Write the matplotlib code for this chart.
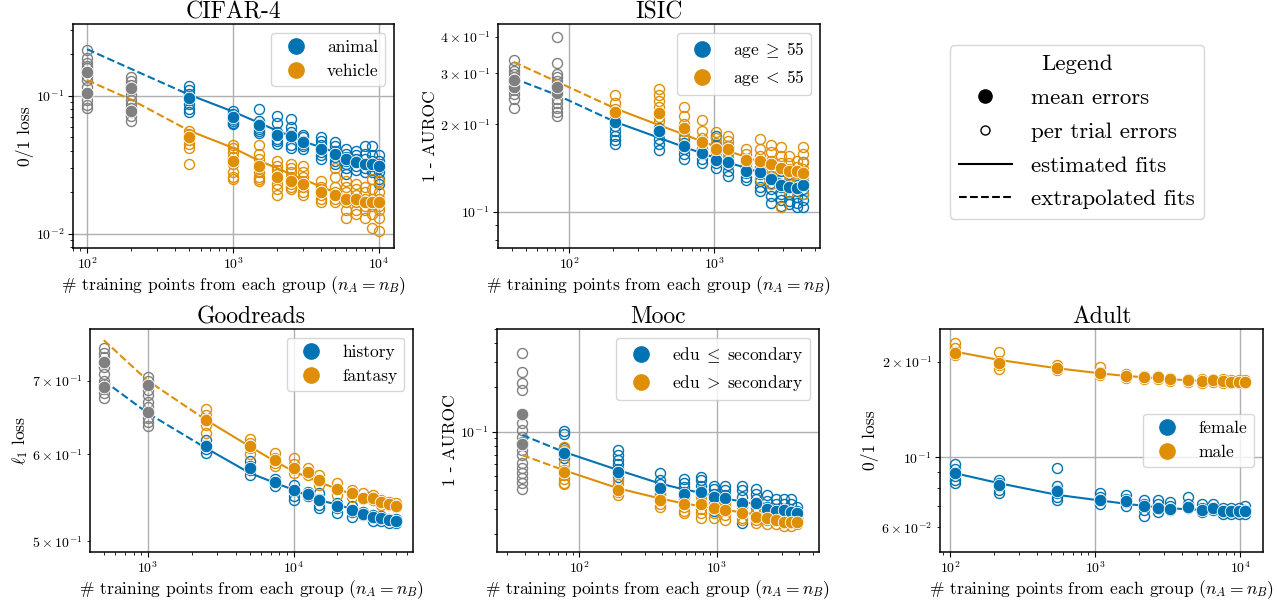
import numpy as np
import matplotlib
matplotlib.use("Agg")
import matplotlib.pyplot as plt
from matplotlib.lines import Line2D

plt.rcParams['font.family'] = 'serif'
plt.rcParams['font.serif'] = ['cmr10']
plt.rcParams['mathtext.fontset'] = 'cm'
plt.rcParams['axes.formatter.use_mathtext'] = True
plt.rcParams['axes.unicode_minus'] = False
plt.rcParams['xtick.labelsize'] = 10
plt.rcParams['ytick.labelsize'] = 10
plt.rcParams['xtick.major.pad'] = 2.5
plt.rcParams['ytick.major.pad'] = 2.5
plt.rcParams['axes.labelsize'] = 12.6
plt.rcParams['axes.labelpad'] = 1.5
plt.rcParams['axes.titlesize'] = 17
plt.rcParams['axes.titlepad'] = 4
plt.rcParams['axes.linewidth'] = 1.1

BLUE = '#0173b2'
ORANGE = '#de8f05'
GRAY = '#808080'

# ---------------- CIFAR-4
cifar_n = [100, 200, 500, 1000, 1500, 2000, 2500, 3000, 4000, 5000, 6000, 7000, 8000, 9000, 10000]
cifar_fit_animal = [0.218, 0.157, 0.102, 0.077, 0.064, 0.056, 0.051, 0.047, 0.0425, 0.039, 0.036, 0.0345, 0.033, 0.0317, 0.0306]
cifar_fit_vehicle = [0.130, 0.094, 0.056, 0.042, 0.034, 0.030, 0.027, 0.025, 0.022, 0.020, 0.0187, 0.0176, 0.0167, 0.016, 0.0154]
cifar_mean_animal = [0.15, 0.115, 0.097, 0.070, 0.062, 0.052, 0.051, 0.046, 0.041, 0.038, 0.035, 0.033, 0.032, 0.032, 0.031]
cifar_mean_vehicle = [0.105, 0.078, 0.050, 0.034, 0.031, 0.026, 0.024, 0.023, 0.020, 0.019, 0.018, 0.018, 0.017, 0.017, 0.017]
cifar_trials_animal = [
    [0.215, 0.188, 0.173, 0.165, 0.159, 0.149, 0.14],
    [0.137, 0.128, 0.12, 0.11, 0.102, 0.094],
    [0.118, 0.111, 0.104, 0.098, 0.093, 0.088, 0.080, 0.076],
    [0.078, 0.074, 0.071, 0.068, 0.066, 0.064, 0.063],
    [0.081, 0.066, 0.063, 0.060, 0.058, 0.056, 0.054],
    [0.071, 0.064, 0.055, 0.052, 0.049, 0.047, 0.045],
    [0.068, 0.060, 0.055, 0.052, 0.050, 0.044, 0.042],
    [0.052, 0.050, 0.047, 0.045, 0.043, 0.041],
    [0.050, 0.047, 0.044, 0.041, 0.039, 0.037, 0.035],
    [0.046, 0.043, 0.040, 0.038, 0.036, 0.034, 0.032],
    [0.041, 0.038, 0.036, 0.034, 0.032, 0.030, 0.027],
    [0.040, 0.037, 0.035, 0.033, 0.031, 0.029],
    [0.043, 0.038, 0.035, 0.032, 0.030, 0.028],
    [0.043, 0.037, 0.034, 0.031, 0.029, 0.028],
    [0.037, 0.034, 0.032, 0.030, 0.028, 0.025, 0.023]]
cifar_trials_vehicle = [
    [0.131, 0.116, 0.105, 0.094, 0.086, 0.082],
    [0.088, 0.082, 0.077, 0.072, 0.066],
    [0.056, 0.053, 0.050, 0.048, 0.045, 0.042, 0.032],
    [0.044, 0.042, 0.039, 0.036, 0.034, 0.032, 0.028, 0.026, 0.025],
    [0.044, 0.038, 0.035, 0.032, 0.030, 0.028, 0.026, 0.025, 0.024],
    [0.034, 0.031, 0.029, 0.027, 0.025, 0.023, 0.021, 0.019],
    [0.032, 0.030, 0.028, 0.026, 0.025, 0.023, 0.022, 0.021],
    [0.031, 0.028, 0.026, 0.024, 0.022, 0.020, 0.019],
    [0.024, 0.022, 0.021, 0.020, 0.019, 0.018, 0.017],
    [0.030, 0.026, 0.022, 0.020, 0.019, 0.018, 0.017],
    [0.024, 0.022, 0.020, 0.018, 0.017, 0.015, 0.013],
    [0.023, 0.021, 0.019, 0.018, 0.017, 0.015, 0.014],
    [0.022, 0.020, 0.018, 0.017, 0.016, 0.015, 0.013],
    [0.025, 0.021, 0.018, 0.016, 0.014, 0.011],
    [0.024, 0.020, 0.018, 0.016, 0.015, 0.013, 0.0105]]

# ---------------- ISIC
isic_n = [41.3, 82.6, 206.5, 413, 619.5, 826, 1032.5, 1239, 1652, 2065, 2478, 2891, 3304, 3717, 4130]
isic_fit_old = [0.288, 0.252, 0.204, 0.180, 0.167, 0.159, 0.153, 0.148, 0.1415, 0.1365, 0.1325, 0.129, 0.1264, 0.124, 0.122]
isic_fit_young = [0.328, 0.280, 0.227, 0.199, 0.1845, 0.1746, 0.1675, 0.162, 0.1545, 0.1486, 0.144, 0.1403, 0.137, 0.1345, 0.132]
isic_mean_old = [0.268, 0.256, 0.203, 0.189, 0.169, 0.159, 0.151, 0.148, 0.138, 0.137, 0.130, 0.124, 0.122, 0.121, 0.124]
isic_mean_young = [0.284, 0.268, 0.221, 0.218, 0.194, 0.174, 0.165, 0.165, 0.151, 0.149, 0.146, 0.141, 0.138, 0.138, 0.136]
isic_trials_old = [
    [0.276, 0.27, 0.262, 0.255, 0.245, 0.228],
    [0.262, 0.255, 0.245, 0.236, 0.228, 0.22, 0.213],
    [0.205, 0.198, 0.19, 0.182, 0.176, 0.171],
    [0.194, 0.186, 0.178, 0.171, 0.163],
    [0.19, 0.18, 0.172, 0.165, 0.158, 0.152],
    [0.175, 0.165, 0.158, 0.152, 0.147],
    [0.183, 0.17, 0.16, 0.152, 0.147, 0.141],
    [0.168, 0.16, 0.152, 0.145, 0.138, 0.133],
    [0.147, 0.141, 0.136, 0.132, 0.129],
    [0.15, 0.142, 0.135, 0.128, 0.122, 0.118],
    [0.14, 0.133, 0.126, 0.12, 0.113, 0.107],
    [0.138, 0.13, 0.122, 0.115, 0.11, 0.105],
    [0.135, 0.128, 0.121, 0.115, 0.109, 0.106],
    [0.13, 0.124, 0.118, 0.112, 0.107, 0.104],
    [0.148, 0.135, 0.127, 0.12, 0.115, 0.11, 0.104]]
isic_trials_young = [
    [0.333, 0.315, 0.305, 0.298, 0.29, 0.282],
    [0.40, 0.325, 0.298, 0.29, 0.283, 0.276, 0.27],
    [0.252, 0.237, 0.226, 0.218, 0.212],
    [0.264, 0.252, 0.24, 0.23, 0.22, 0.212, 0.205],
    [0.23, 0.213, 0.2, 0.19, 0.182],
    [0.207, 0.19, 0.18, 0.172, 0.165, 0.16],
    [0.188, 0.18, 0.172, 0.165, 0.16],
    [0.183, 0.175, 0.168, 0.16, 0.156],
    [0.165, 0.158, 0.152, 0.147, 0.142],
    [0.178, 0.165, 0.155, 0.147, 0.14, 0.13],
    [0.17, 0.16, 0.15, 0.14, 0.133, 0.125],
    [0.167, 0.155, 0.147, 0.14, 0.132, 0.104],
    [0.155, 0.147, 0.14, 0.134, 0.128, 0.117],
    [0.15, 0.143, 0.137, 0.131, 0.126],
    [0.167, 0.158, 0.148, 0.14, 0.133, 0.125, 0.115]]

# ---------------- Goodreads
gr_n = [500, 1000, 2500, 5000, 7500, 10000, 12500, 15000, 20000, 25000, 30000, 35000, 40000, 45000, 50000]
gr_fit_history = [0.70, 0.654, 0.608, 0.577, 0.565, 0.557, 0.550, 0.545, 0.540, 0.535, 0.531, 0.528, 0.526, 0.5245, 0.523]
gr_fit_fantasy = [0.762, 0.70, 0.645, 0.610, 0.591, 0.579, 0.572, 0.566, 0.558, 0.552, 0.548, 0.545, 0.5425, 0.5405, 0.539]
gr_mean_history = [0.691, 0.655, 0.610, 0.583, 0.566, 0.557, 0.552, 0.545, 0.538, 0.534, 0.530, 0.526, 0.525, 0.523, 0.522]
gr_mean_fantasy = [0.728, 0.693, 0.645, 0.610, 0.593, 0.583, 0.578, 0.569, 0.558, 0.553, 0.547, 0.548, 0.543, 0.541, 0.539]
gr_trials_history = [
    [0.70, 0.695, 0.688, 0.682, 0.675],
    [0.67, 0.663, 0.655, 0.648, 0.642, 0.637],
    [0.618, 0.612, 0.607, 0.602],
    [0.592, 0.586, 0.58, 0.575],
    [0.57, 0.566, 0.562],
    [0.563, 0.556, 0.55, 0.545],
    [0.554, 0.55],
    [0.553, 0.546, 0.54, 0.536],
    [0.542, 0.536, 0.531],
    [0.538, 0.532, 0.526],
    [0.532, 0.528],
    [0.528, 0.522],
    [0.527, 0.522],
    [0.524, 0.52],
    [0.524, 0.52]]
gr_trials_fantasy = [
    [0.75, 0.742, 0.735, 0.727, 0.72, 0.71],
    [0.706, 0.7, 0.693, 0.687, 0.68],
    [0.66, 0.652, 0.645, 0.638, 0.628],
    [0.62, 0.614, 0.608, 0.6],
    [0.602, 0.595, 0.589, 0.585],
    [0.595, 0.588, 0.582, 0.577],
    [0.583, 0.574],
    [0.575, 0.567, 0.563],
    [0.565, 0.558, 0.551],
    [0.557, 0.549],
    [0.553, 0.546],
    [0.551, 0.545],
    [0.545, 0.54],
    [0.543, 0.54],
    [0.542, 0.537]]

# ---------------- Mooc
mooc_n = [38.5, 77, 192.5, 385, 577.5, 770, 962.5, 1155, 1540, 1925, 2310, 2695, 3080, 3465, 3850]
mooc_fit_low = [0.095, 0.073, 0.0548, 0.0445, 0.0405, 0.0385, 0.0365, 0.0352, 0.0334, 0.0322, 0.0312, 0.0304, 0.0298, 0.0292, 0.0286]
mooc_fit_high = [0.0694, 0.0548, 0.0412, 0.0352, 0.0325, 0.0312, 0.0301, 0.0293, 0.0283, 0.0274, 0.0267, 0.0262, 0.0258, 0.0254, 0.0251]
mooc_mean_low = [0.133, 0.0712, 0.0535, 0.0412, 0.038, 0.039, 0.036, 0.0352, 0.0325, 0.0325, 0.030, 0.029, 0.0293, 0.0286, 0.0278]
mooc_mean_high = [0.0825, 0.0535, 0.0401, 0.0343, 0.0322, 0.0322, 0.0301, 0.0293, 0.0278, 0.0264, 0.0258, 0.0251, 0.0245, 0.0245, 0.0245]
mooc_trials_low = [
    [0.341, 0.256, 0.213, 0.192, 0.13, 0.114, 0.103, 0.0925],
    [0.101, 0.096, 0.078, 0.073, 0.069, 0.066],
    [0.075, 0.069, 0.064, 0.06, 0.056, 0.052, 0.049],
    [0.052, 0.047, 0.044, 0.041, 0.038],
    [0.048, 0.045, 0.042, 0.039, 0.036],
    [0.049, 0.047, 0.043, 0.040, 0.038],
    [0.043, 0.041, 0.038, 0.035, 0.032, 0.029],
    [0.043, 0.040, 0.037, 0.034, 0.031],
    [0.043, 0.040, 0.036, 0.032, 0.028, 0.024],
    [0.041, 0.038, 0.035, 0.031, 0.028],
    [0.037, 0.034, 0.031, 0.029, 0.027],
    [0.035, 0.032, 0.030, 0.028, 0.026],
    [0.035, 0.032, 0.030, 0.028, 0.026],
    [0.035, 0.032, 0.029, 0.027],
    [0.031, 0.029, 0.027, 0.026]]
mooc_trials_high = [
    [0.0855, 0.075, 0.0694, 0.0609, 0.0563, 0.0521, 0.0482, 0.0446, 0.0406],
    [0.079, 0.075, 0.06, 0.055, 0.051, 0.048, 0.045, 0.044],
    [0.047, 0.044, 0.041, 0.039, 0.037],
    [0.038, 0.036, 0.034, 0.032, 0.031],
    [0.035, 0.033, 0.031, 0.029, 0.028],
    [0.036, 0.033, 0.030, 0.028, 0.026],
    [0.034, 0.032, 0.030, 0.028, 0.026],
    [0.033, 0.031, 0.029, 0.027, 0.025],
    [0.031, 0.029, 0.028, 0.026, 0.025],
    [0.029, 0.028, 0.026, 0.025, 0.024],
    [0.028, 0.026, 0.025, 0.0235],
    [0.028, 0.026, 0.025, 0.0235],
    [0.027, 0.025, 0.024, 0.023],
    [0.027, 0.025, 0.024, 0.023],
    [0.026, 0.025, 0.024, 0.0235]]

# ---------------- Adult
adult_n = [108.6, 217.2, 543, 1086, 1629, 2172, 2715, 3258, 4344, 5430, 6516, 7602, 8688, 9774, 10860]
adult_fit_female = [0.089, 0.0828, 0.0761, 0.073, 0.0713, 0.0702, 0.0695, 0.0690, 0.0685, 0.0682, 0.0679, 0.0676, 0.0674, 0.0673, 0.0671]
adult_fit_male = [0.2154, 0.2029, 0.191, 0.184, 0.1805, 0.179, 0.1775, 0.1763, 0.175, 0.1743, 0.174, 0.1734, 0.173, 0.1727, 0.1723]
adult_mean_female = [0.089, 0.0818, 0.078, 0.0734, 0.0725, 0.0699, 0.069, 0.0685, 0.0695, 0.0682, 0.069, 0.0674, 0.0674, 0.0674, 0.0674]
adult_mean_male = [0.213, 0.198, 0.191, 0.184, 0.1805, 0.179, 0.179, 0.1763, 0.1753, 0.1743, 0.1753, 0.1743, 0.1734, 0.1734, 0.1734]
adult_trials_female = [
    [0.095, 0.092, 0.089, 0.087, 0.085, 0.083],
    [0.085, 0.083, 0.081, 0.079, 0.077],
    [0.0925, 0.081, 0.079, 0.077, 0.075, 0.073],
    [0.077, 0.075, 0.073, 0.071],
    [0.076, 0.074, 0.072, 0.070],
    [0.0734, 0.071, 0.068, 0.065],
    [0.073, 0.071, 0.069, 0.067],
    [0.072, 0.070, 0.068],
    [0.075, 0.071, 0.069],
    [0.071, 0.069, 0.067],
    [0.071, 0.069, 0.068],
    [0.069, 0.067, 0.066],
    [0.069, 0.067, 0.066],
    [0.069, 0.067, 0.066],
    [0.070, 0.068, 0.066]]
adult_trials_male = [
    [0.229, 0.221, 0.215, 0.21],
    [0.215, 0.201, 0.196, 0.19],
    [0.196, 0.192, 0.188],
    [0.193, 0.186, 0.182],
    [0.183, 0.180, 0.178],
    [0.181, 0.179, 0.177],
    [0.181, 0.179, 0.177],
    [0.178, 0.176, 0.174],
    [0.177, 0.175, 0.173],
    [0.176, 0.174, 0.172],
    [0.177, 0.175, 0.173],
    [0.176, 0.174, 0.172],
    [0.175, 0.173, 0.171],
    [0.175, 0.173, 0.171],
    [0.175, 0.173, 0.171]]

XLABEL = r'# training points from each group ($n_A = n_B$)'


def panel(ax, title, ylabel, n, n_extra, names, fits, means, trials, xlim, ylim, loc):
    cols = [BLUE, ORANGE]
    for g in range(2):
        c = cols[g]
        for i in range(len(n)):
            cc = GRAY if i < n_extra else c
            tr = trials[g][i]
            ax.plot([n[i]] * len(tr), tr, 'o', mfc='none', mec=cc, ms=7.2, mew=1.0, zorder=2)
        if n_extra:
            ax.plot(n[:n_extra], means[g][:n_extra], 'o', color=GRAY, mec='white', mew=0.6, ms=9, zorder=3)
            ax.plot(n[:n_extra + 1], fits[g][:n_extra + 1], '--', color=c, lw=1.5, zorder=2.5)
        ax.plot(n[n_extra:], fits[g][n_extra:], '-', color=c, lw=1.5, zorder=2.5)
        ax.plot(n[n_extra:], means[g][n_extra:], 'o', color=c, mec='white', mew=0.6, ms=9, zorder=3)
    ax.set_xscale('log')
    ax.set_yscale('log')
    ax.set_xlim(*xlim)
    ax.set_ylim(*ylim)
    ax.grid(True, which='major', color='#b0b0b0', lw=1.0)
    ax.set_axisbelow(True)
    ax.set_title(title)
    ax.set_ylabel(ylabel)
    ax.set_xlabel(XLABEL)
    hs = [Line2D([], [], marker='o', ls='none', color=c, ms=11) for c in cols]
    ax.legend(hs, names, loc=loc, fontsize=12.5)


fig = plt.figure(figsize=(12.77, 6.02), dpi=100)
W, H = 1277.0, 602.0


def add_ax(l, r, t, b):
    return fig.add_axes([l / W, 1 - b / H, (r - l) / W, (b - t) / H])


ax1 = add_ax(73, 394, 24, 248)
panel(ax1, 'CIFAR-4', '0/1 loss', cifar_n, 2, ['animal', 'vehicle'],
      [cifar_fit_animal, cifar_fit_vehicle], [cifar_mean_animal, cifar_mean_vehicle],
      [cifar_trials_animal, cifar_trials_vehicle], (80, 12700), (0.0079, 0.332), 'upper right')

ax2 = add_ax(498, 820, 24, 248)
panel(ax2, 'ISIC', '1 - AUROC', isic_n, 2, [r'age$\;\geq\;$55', r'age$\;<\;$55'],
      [isic_fit_old, isic_fit_young], [isic_mean_old, isic_mean_young],
      [isic_trials_old, isic_trials_young], (32.2, 5380), (0.075, 0.443), 'upper right')

ax3 = add_ax(90, 413, 329, 552)
panel(ax3, 'Goodreads', r'$\ell_1$ loss', gr_n, 2, ['history', 'fantasy'],
      [gr_fit_history, gr_fit_fantasy], [gr_mean_history, gr_mean_fantasy],
      [gr_trials_history, gr_trials_fantasy], (402, 65900), (0.489, 0.780), 'upper right')

ax4 = add_ax(497, 819, 329, 552)
panel(ax4, 'Mooc', '1 - AUROC', mooc_n, 1, [r'edu$\;\leq\;$secondary', r'edu$\;>\;$secondary'],
      [mooc_fit_low, mooc_fit_high], [mooc_mean_low, mooc_mean_high],
      [mooc_trials_low, mooc_trials_high], (25.2, 5560), (0.0152, 0.5), 'upper right')

ax5 = add_ax(940, 1263, 329, 552)
panel(ax5, 'Adult', '0/1 loss', adult_n, 0, ['female', 'male'],
      [adult_fit_female, adult_fit_male], [adult_mean_female, adult_mean_male],
      [adult_trials_female, adult_trials_male], (85.3, 14350), (0.0502, 0.254), 'center right')

# shared legend panel
key = [Line2D([], [], marker='o', ls='none', color='black', ms=9.5),
       Line2D([], [], marker='o', ls='none', mfc='none', mec='black', ms=6.5, mew=1.0),
       Line2D([], [], ls='-', color='black', lw=1.5),
       Line2D([], [], ls='--', color='black', lw=1.5)]
fig.legend(key, ['mean errors', 'per trial errors', 'estimated fits', 'extrapolated fits'],
           loc='center', bbox_to_anchor=(1077 / W, 1 - 132 / H), title='Legend',
           fontsize=16.5, title_fontsize=16.5, handlelength=2.3, handletextpad=0.85,
           labelspacing=0.6)

fig.savefig('out.png', dpi=100)
